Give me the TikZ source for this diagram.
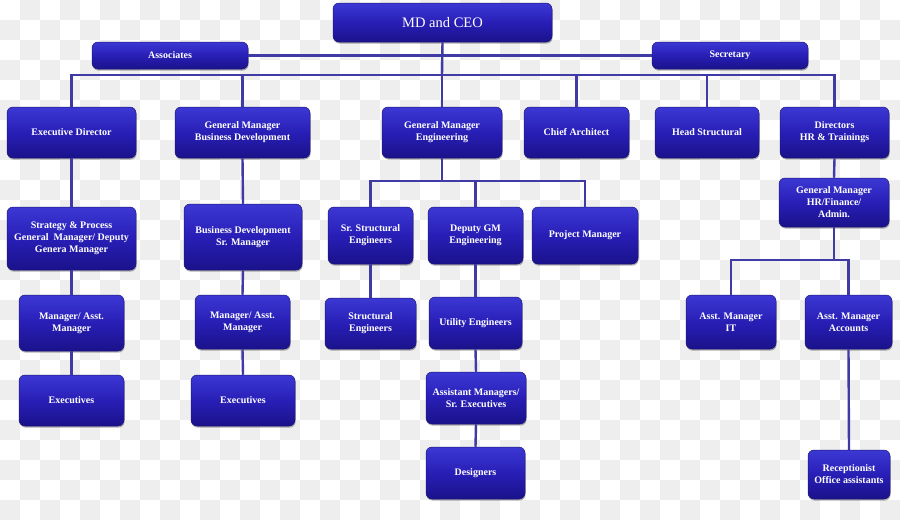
\documentclass[tikz,border=0pt]{standalone}
\usepackage{fontspec}
\setmainfont{Liberation Serif}
\usetikzlibrary{shadows}
\definecolor{boxtop}{RGB}{60,56,212}
\definecolor{boxmid}{RGB}{40,30,182}
\definecolor{boxbot}{RGB}{26,18,138}
\definecolor{boxedge}{RGB}{30,24,120}
\definecolor{lineblue}{RGB}{64,58,165}
\definecolor{checkgray}{RGB}{238,238,238}
\tikzset{
  box/.style={rounded corners=6pt, draw=boxedge, line width=0.5pt,
    top color=boxtop, bottom color=boxbot, middle color=boxmid,
    text=white, align=center, inner sep=1pt,
    font=\bfseries\fontsize{10}{12}\selectfont,
    general shadow={fill=black, opacity=0.3, shadow xshift=0.6pt, shadow yshift=-1.6pt}},
  conn/.style={draw=lineblue, line width=2.4pt},
}
\newcommand{\bx}[6]{\node[box, minimum width=#4-#2, minimum height=#5-#3] (#1) at ({(#2+#4)/2},{(#3+#5)/2}) {#6};}
\begin{document}
\begin{tikzpicture}[x=1pt,y=-1pt]
\useasboundingbox (0,0) rectangle (900,520);
\fill[white] (0,0) rectangle (900,520);
\foreach \i in {0,...,44}{
  \foreach \j in {0,...,25}{
    \pgfmathtruncatemacro{\p}{mod(\i+\j,2)}
    \ifnum\p=1 \fill[checkgray] (\i*20,\j*20) rectangle ++(20,20);\fi
  }
}
% junction coordinates
\coordinate (b1) at (442,75);
\coordinate (b2) at (442,181);
\coordinate (b3) at (834,260);

% boxes
\bx{ceo}{333}{3}{552}{42}{\mdseries\fontsize{14.5}{16}\selectfont MD and CEO}
\bx{assoc}{92}{42}{248}{69}{Associates}
\bx{sec}{652}{42}{808}{69}{Secretary}
\bx{ed}{7}{107}{136}{158}{Executive Director}
\bx{gmbd}{175}{107}{310}{158}{General Manager\\Business Development}
\bx{gme}{382}{107}{502}{158}{General Manager\\Engineering}
\bx{ca}{524}{107}{629}{158}{Chief Architect}
\bx{hs}{655}{107}{759}{158}{Head Structural}
\bx{dhr}{780}{107}{889}{158}{Directors\\HR \& Trainings}
\bx{spg}{7}{207}{136}{270}{Strategy \& Process\\General \ Manager/ Deputy\\Genera Manager}
\bx{mg1}{19}{295}{124}{351}{Manager/ Asst.\\Manager}
\bx{ex1}{19}{375}{124}{426}{Executives}
\bx{bdsm}{184}{204}{302}{270}{Business Development\\Sr. Manager}
\bx{mg2}{195}{295}{290}{349}{Manager/ Asst.\\Manager}
\bx{ex2}{191}{375}{295}{426}{Executives}
\bx{sse}{328}{207}{413}{264}{Sr. Structural\\Engineers}
\bx{dgm}{428}{207}{523}{264}{Deputy GM\\Engineering}
\bx{pm}{532}{207}{638}{264}{Project Manager}
\bx{se}{325}{298}{416}{349}{Structural\\Engineers}
\bx{ue}{429}{297}{522}{349}{Utility Engineers}
\bx{asm}{426}{372}{526}{424}{Assistant Managers/\\Sr. Executives}
\bx{des}{426}{447}{525}{499}{Designers}
\bx{gmhr}{779}{178}{889}{227}{General Manager\\HR/Finance/\\Admin.}
\bx{it}{686}{295}{776}{349}{Asst. Manager\\IT}
\bx{acc}{805}{295}{892}{349}{Asst. Manager\\Accounts}
\bx{rec}{808}{450}{890}{499}{Receptionist\\Office assistants}

% connectors
\begin{scope}[conn]
\draw (ceo.south) -- (b1);
\draw (assoc.east) -- (sec.west);
\draw (ed.north) |- (b1) -| (dhr.north);
\draw (gmbd.north) -- (gmbd.north |- b1);
\draw (ca.north) -- (ca.north |- b1);
\draw (hs.north) -- (hs.north |- b1);
\draw (gme.north) -- (gme.north |- b1);
\draw (ed.south) -- (spg.north);
\draw (spg.south) -- (mg1.north);
\draw (mg1.south) -- (ex1.north);
\draw (gmbd.south) -- (bdsm.north);
\draw (bdsm.south) -- (mg2.north);
\draw (mg2.south) -- (ex2.north);
\draw (gme.south) -- (b2);
\draw (sse.north) |- (b2) -| (pm.north);
\draw (dgm.north) -- (dgm.north |- b2);
\draw (sse.south) -- (se.north);
\draw (dgm.south) -- (ue.north);
\draw (ue.south) -- (asm.north);
\draw (asm.south) -- (des.north);
\draw (dhr.south) -- (gmhr.north);
\draw (gmhr.south) -- (b3);
\draw (it.north) |- (b3) -| (acc.north);
\draw (acc.south) -- (rec.north);
\end{scope}
\end{tikzpicture}
\end{document}
